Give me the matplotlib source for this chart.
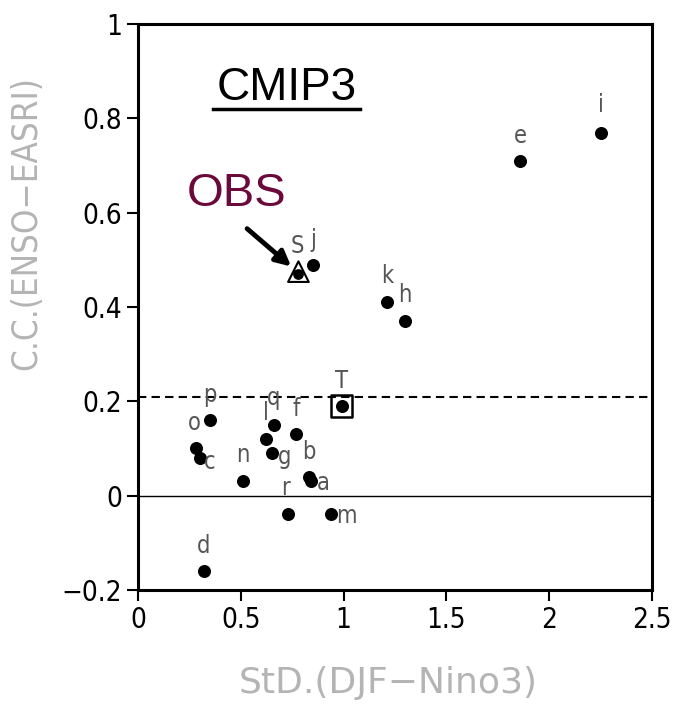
import matplotlib.pyplot as plt

# Model points: std of DJF Nino3 vs correlation ENSO-EASRI
labels = ["a", "b", "c", "d", "e", "f", "g", "h", "i", "j", "k", "l",
          "m", "n", "o", "p", "q", "r"]
std_nino3 = [0.84, 0.83, 0.30, 0.32, 1.86, 0.77, 0.65, 1.30, 2.25, 0.85, 1.21, 0.62,
             0.94, 0.51, 0.28, 0.35, 0.66, 0.73]
cc_easri = [0.03, 0.04, 0.08, -0.16, 0.71, 0.13, 0.09, 0.37, 0.77, 0.49, 0.41, 0.12,
            -0.04, 0.03, 0.10, 0.16, 0.15, -0.04]
# label offsets in points (dx, dy)
offsets = [(9, -1), (0, 18), (7, -3), (0, 18), (0, 18), (0, 18), (9, -3), (0, 19),
           (0, 20), (0, 18), (0, 19), (0, 19), (11, -1), (0, 19), (-1, 18), (0, 18),
           (0, 19), (-2, 19)]

# observation and ensemble mean
obs_x, obs_y = 0.78, 0.47
mme_x, mme_y = 0.99, 0.19
mme_ref = 0.21

plt.rcParams['font.family'] = ['DejaVu Sans']
plt.rcParams['font.stretch'] = 'condensed'

fig = plt.figure(figsize=(6.77, 7.09), dpi=100)
ax = fig.add_axes([0.204, 0.168, 0.759, 0.798])

ax.scatter(std_nino3, cc_easri, s=70, color="black", zorder=3)
for lab, x, y, off in zip(labels, std_nino3, cc_easri, offsets):
    ax.annotate(lab, (x, y), xytext=off, textcoords="offset points",
                ha="center", va="center", fontsize=17, color="#555555")

# OBS
ax.scatter([obs_x], [obs_y], s=45, color="black", zorder=3)
ax.scatter([obs_x], [obs_y + 0.005], s=220, marker="^", facecolor="none",
           edgecolor="black", linewidth=1.5, zorder=3)
ax.annotate("S", (obs_x, obs_y), xytext=(-1, 20), textcoords="offset points",
            ha="center", va="center", fontsize=17, color="#555555")
# ensemble mean
ax.scatter([mme_x], [mme_y], s=70, color="black", zorder=3)
ax.scatter([mme_x], [mme_y], s=230, marker="s", facecolor="none",
           edgecolor="black", linewidth=1.8, zorder=3)
ax.annotate("T", (mme_x, mme_y), xytext=(0, 18), textcoords="offset points",
            ha="center", va="center", fontsize=17, color="#555555")

ax.axhline(0, color="black", linewidth=1)
ax.axhline(mme_ref, color="black", linewidth=1.5, linestyle=(0, (4, 2.5)))

ax.annotate("", xy=(obs_x - 0.025, obs_y + 0.012), xytext=(0.52, 0.57),
            arrowprops=dict(arrowstyle="-|>,head_length=0.9,head_width=0.45",
                            color="black", lw=3.5))
ax.text(0.48, 0.64, "OBS", fontsize=34, color="#6b0a3a", ha="center",
        va="center", family=["Liberation Sans", "DejaVu Sans"], fontstretch="normal")
ax.text(0.725, 0.865, "CMIP3", fontsize=33, color="black", ha="center",
        va="center", family=["Liberation Sans", "DejaVu Sans"], fontstretch="normal")
ax.plot([0.365, 1.08], [0.82, 0.82], color="black", linewidth=2.5)

ax.set_xlim(0, 2.5)
ax.set_ylim(-0.2, 1)
ax.set_xticks([0, 0.5, 1, 1.5, 2, 2.5])
ax.set_xticklabels(["0", "0.5", "1", "1.5", "2", "2.5"])
ax.set_yticks([-0.2, 0, 0.2, 0.4, 0.6, 0.8, 1])
ax.set_yticklabels(["\u22120.2", "0", "0.2", "0.4", "0.6", "0.8", "1"])
ax.tick_params(labelsize=20, length=8, width=1.5, direction="out",
               top=False, right=False)
for sp in ax.spines.values():
    sp.set_linewidth(2.2)

ax.set_xlabel("StD.(DJF\u2212Nino3)", fontsize=26, color="#b4b4b4",
              fontstretch="normal")
ax.set_ylabel("C.C.(ENSO\u2212EASRI)", fontsize=25, color="#b4b4b4")
ax.xaxis.set_label_coords(0.486, -0.134)
ax.yaxis.set_label_coords(-0.185, 0.648)

fig.savefig("out.png", dpi=100)
